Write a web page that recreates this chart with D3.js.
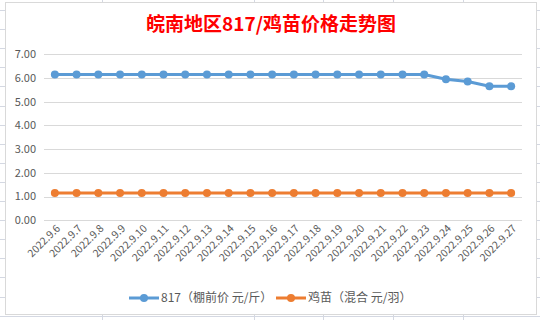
<!DOCTYPE html>
<html>
<head>
<meta charset="utf-8">
<script src="https://cdn.jsdelivr.net/npm/d3@7"></script>
<style>
  body { margin: 0; background: #fff; }
  text { font-family: "Noto Sans CJK SC", "Noto Sans", sans-serif; }
</style>
</head>
<body>
<div id="chart"></div>
<script>
// data
var dates = ["2022.9.6","2022.9.7","2022.9.8","2022.9.9","2022.9.10","2022.9.11","2022.9.12",
  "2022.9.13","2022.9.14","2022.9.15","2022.9.16","2022.9.17","2022.9.18","2022.9.19",
  "2022.9.20","2022.9.21","2022.9.22","2022.9.23","2022.9.24","2022.9.25","2022.9.26","2022.9.27"];
var price817 = [6.15,6.15,6.15,6.15,6.15,6.15,6.15,6.15,6.15,6.15,6.15,6.15,6.15,6.15,6.15,6.15,6.15,6.15,5.95,5.85,5.65,5.65];
var priceChick = [1.15,1.15,1.15,1.15,1.15,1.15,1.15,1.15,1.15,1.15,1.15,1.15,1.15,1.15,1.15,1.15,1.15,1.15,1.15,1.15,1.15,1.15];
var yTicks = [0,1,2,3,4,5,6,7];
var seriesNames = ["817（棚前价 元/斤）", "鸡苗（混合 元/羽）"];
var colors = ["#5b9bd5", "#ed7d31"];

var W = 540, H = 320;
var svg = d3.select("#chart").append("svg")
  .attr("width", W).attr("height", H);

// spreadsheet grid behind the chart
var sheet = svg.append("g").attr("stroke", "#d4d8e2").attr("stroke-width", 1);
[102, 254, 323, 393, 463].forEach(function(x) {
  sheet.append("line").attr("x1", x + .5).attr("x2", x + .5).attr("y1", 0).attr("y2", H);
});
d3.range(10, H, 19.1).forEach(function(y) {
  y = Math.round(y) + .5;
  sheet.append("line").attr("x1", 0).attr("x2", W).attr("y1", y).attr("y2", y);
});

// chart box
svg.append("rect")
  .attr("x", 5.5).attr("y", 2.5).attr("width", 531).attr("height", 312)
  .attr("fill", "#fff").attr("stroke", "#d9d9d9");

// title
svg.append("text")
  .attr("x", 271).attr("y", 31)
  .attr("text-anchor", "middle")
  .attr("fill", "#ff0000")
  .style("font-size", "19px").style("font-weight", "bold")
  .text("皖南地区817/鸡苗价格走势图");

var x = d3.scaleBand().domain(dates).range([44, 522]);
var y = d3.scaleLinear().domain([0, 7]).range([220.3, 54.3]);

// gridlines + y labels
svg.append("g").selectAll("line").data(yTicks).enter().append("line")
  .attr("x1", 44).attr("x2", 522)
  .attr("y1", function(d) { return Math.round(y(d)) + .5; })
  .attr("y2", function(d) { return Math.round(y(d)) + .5; })
  .attr("stroke", "#d9d9d9");

svg.append("g").selectAll("text").data(yTicks).enter().append("text")
  .attr("x", 36).attr("y", function(d) { return y(d); })
  .attr("dy", "0.35em")
  .attr("text-anchor", "end")
  .attr("fill", "#595959")
  .style("font-size", "11px")
  .text(function(d) { return d3.format(".2f")(d); });

// x labels
svg.append("g").selectAll("text").data(dates).enter().append("text")
  .attr("transform", function(d) {
    return "translate(" + (x(d) + x.bandwidth() / 2 + 6) + ",229) rotate(-45)";
  })
  .attr("text-anchor", "end")
  .attr("fill", "#595959")
  .style("font-size", "10.5px")
  .text(function(d) { return d; });

// lines
var allSeries = [price817, priceChick];
allSeries.forEach(function(vals, i) {
  var line = d3.line()
    .x(function(d, j) { return x(dates[j]) + x.bandwidth() / 2; })
    .y(function(d) { return y(d); });
  svg.append("path").datum(vals)
    .attr("d", line)
    .attr("fill", "none")
    .attr("stroke", colors[i])
    .attr("stroke-width", 3)
    .attr("stroke-linejoin", "round");
  svg.append("g").selectAll("circle").data(vals).enter().append("circle")
    .attr("cx", function(d, j) { return x(dates[j]) + x.bandwidth() / 2; })
    .attr("cy", function(d) { return y(d); })
    .attr("r", 4)
    .attr("fill", colors[i]);
});

// legend
var legX = [129, 276];
seriesNames.forEach(function(name, i) {
  var g = svg.append("g").attr("transform", "translate(" + legX[i] + ",298)");
  g.append("line").attr("x1", 0).attr("x2", 30).attr("y1", 0).attr("y2", 0)
    .attr("stroke", colors[i]).attr("stroke-width", 3);
  g.append("circle").attr("cx", 15).attr("cy", 0).attr("r", 4).attr("fill", colors[i]);
  g.append("text").attr("x", 32).attr("y", 0).attr("dy", "0.35em")
    .attr("fill", "#595959").style("font-size", "12px")
    .text(name);
});
</script>
</body>
</html>
